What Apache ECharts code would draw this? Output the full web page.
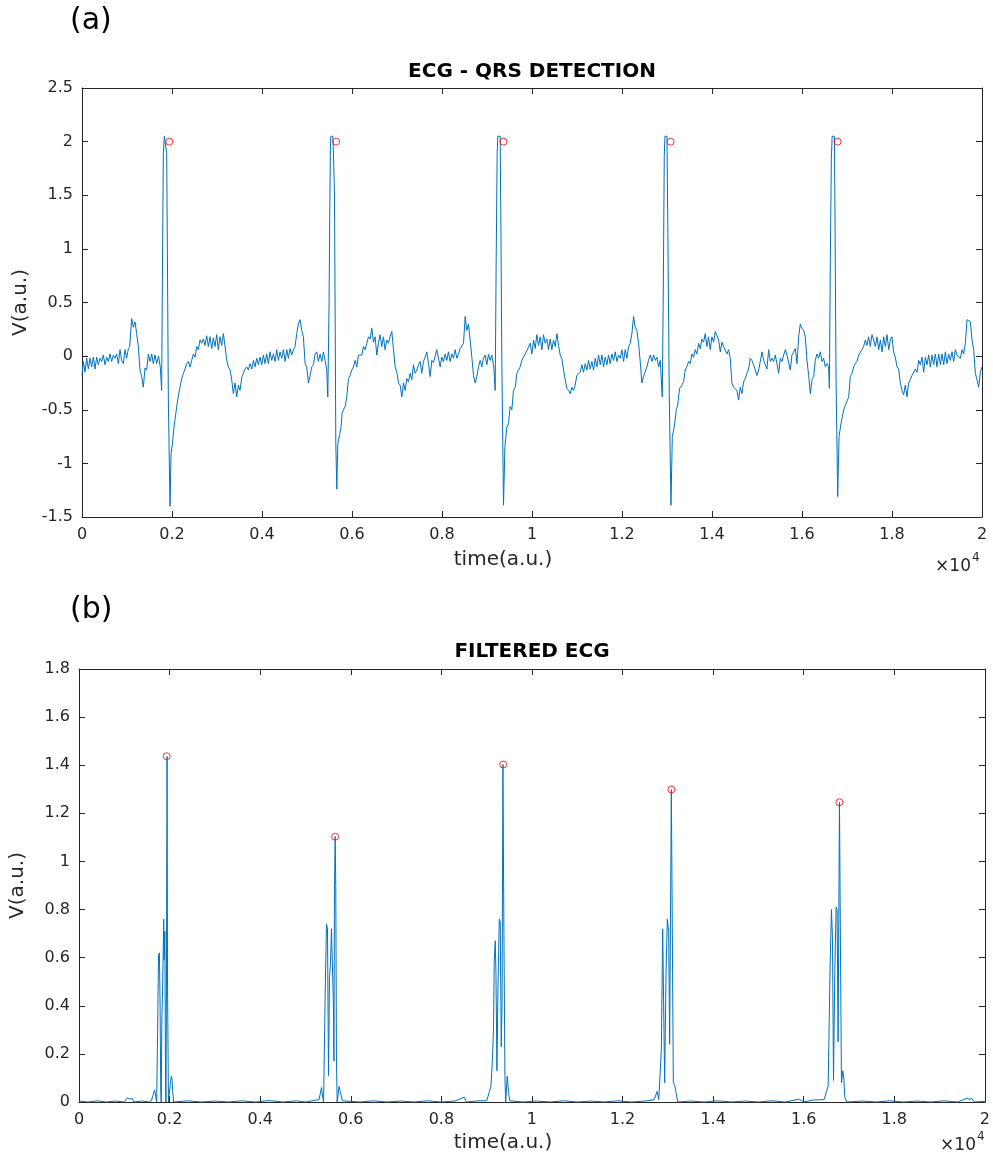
<!DOCTYPE html>
<html>
<head>
<meta charset="utf-8">
<script src="https://cdn.jsdelivr.net/npm/echarts@6/dist/echarts.min.js"></script>
<style>
html,body{margin:0;padding:0;background:#fff;}
#c{width:993px;height:1160px;}
</style>
</head>
<body>
<div id="c"></div>
<script>
// ---- DATA ----
// Raw ECG: [time, V]
const ecgSamples = [
[0,-0.18],[30,-0.05],[67,-0.15],[104,-0.02],[141,-0.12],[178,-0.02],[215,-0.10],[252,-0.01],[289,-0.12],[326,-0.01],[363,-0.08],[400,-0.02],[437,-0.05],[474,0.01],[511,-0.08],[548,-0.01],[585,-0.05],[622,0.02],[659,-0.05],[697,0.01],[734,-0.02],[771,0.02],[808,-0.07],[845,0.06],[882,-0.04],[919,-0.07],[956,0.06],[993,-0.02],[1030,0.07],[1060,0.09],[1104,0.35],[1141,0.27],[1178,0.32],[1215,0.21],[1252,0.09],[1289,-0.13],[1326,-0.19],[1363,-0.29],[1400,-0.11],[1437,-0.13],[1474,0.02],[1511,-0.05],[1548,0.02],[1585,-0.07],[1622,0.01],[1660,-0.07],[1700,0.0],[1740,-0.10],[1770,-0.32],
[1793,1.11],[1808,1.89],[1830,2.05],[1867,2.05],[1882,1.89],[1897,0.99],[1919,-0.41],[1956,-1.40],[1979,-0.91],[2008,-0.82],[2045,-0.66],[2082,-0.65],[2105,-0.47],[2149,-0.35],[2178,-0.29],[2216,-0.21],[2253,-0.16],[2290,-0.12],[2327,-0.07],[2364,-0.05],[2401,-0.10],[2438,-0.04],[2475,0.02],[2512,-0.01],[2549,0.09],[2586,0.06],[2623,0.15],[2660,0.12],[2697,0.16],
[2734,0.10],[2771,0.19],[2808,0.09],[2845,0.18],[2882,0.07],[2919,0.17],[2956,0.09],[2993,0.20],[3030,0.06],[3067,0.18],[3105,0.10],[3142,0.21],[3179,0.09],[3216,-0.04],[3253,-0.10],[3290,-0.13],[3327,-0.22],[3364,-0.35],[3401,-0.25],[3438,-0.38],[3475,-0.27],[3512,-0.32],[3549,-0.20],[3586,-0.16],[3623,-0.12],[3660,-0.10],[3697,-0.13],[3735,-0.07],[3772,-0.12],[3809,-0.04],[3846,-0.10],[3883,-0.02],[3920,-0.08],[3957,-0.01],[3994,-0.08],[4031,0.01],[4068,-0.07],[4105,0.02],[4142,-0.07],[4179,0.04],[4216,-0.04],[4253,0.02],[4290,-0.05],[4327,0.06],[4364,-0.04],[4401,0.04],[4438,-0.02],[4476,0.06],[4513,-0.05],[4550,0.06],[4587,-0.02],[4624,0.07],[4661,0.01],[4698,0.06],[4735,0.09],[4772,0.21],[4809,0.30],[4846,0.34],[4883,0.24],[4920,0.18],[4958,-0.07],[4995,-0.10],[5032,-0.25],[5069,-0.18],[5106,-0.10],[5143,-0.08],[5180,0.02],[5217,0.04],[5254,-0.05],[5291,0.02],[5328,-0.05],[5365,0.04],[5402,-0.04],[5439,-0.13],[5462,-0.38],
[5491,0.5],[5505,1.3],[5520,1.95],[5530,2.05],[5575,2.05],[5588,1.89],[5610,1.53],[5625,0.44],[5640,-0.82],[5662,-1.24],[5684,-0.82],[5721,-0.74],[5758,-0.66],[5780,-0.53],[5810,-0.50],[5847,-0.47],[5884,-0.38],[5921,-0.21],[5958,-0.18],[5995,-0.13],[6032,-0.10],[6070,-0.04],[6107,-0.10],[6144,0.01],[6181,0.02],[6218,0.01],[6255,0.09],[6292,0.06],[6329,0.12],[6366,0.18],[6403,0.16],[6440,0.26],[6477,0.13],[6514,0.18],[6551,0.01],[6588,0.12],[6625,0.20],[6662,0.09],[6699,0.18],[6736,0.06],[6773,0.15],[6810,0.12],[6847,0.18],[6885,0.23],[6922,0.06],[6959,-0.10],[6996,-0.15],[7033,-0.25],[7070,-0.27],[7107,-0.38],[7144,-0.25],[7181,-0.32],[7218,-0.21],[7255,-0.24],[7292,-0.16],[7329,-0.22],[7366,-0.08],[7403,-0.16],[7440,-0.13],[7477,-0.08],[7514,-0.05],[7551,-0.16],[7588,-0.05],[7625,-0.01],[7663,0.04],[7700,-0.07],[7737,-0.19],[7774,-0.04],[7811,-0.06],[7848,-0.07],[7885,0.06],[7922,-0.02],[7959,-0.10],[7996,-0.01],[8033,-0.05],[8070,0.02],[8107,-0.04],[8144,0.04],[8181,-0.05],[8218,0.02],[8255,-0.02],[8293,0.06],[8330,-0.02],[8367,0.02],[8404,0.07],[8441,0.06],[8478,0.12],[8515,0.37],[8552,0.24],[8589,0.30],[8626,0.15],[8663,-0.01],[8700,-0.18],[8737,-0.25],[8774,-0.19],[8811,-0.10],[8848,-0.04],[8885,-0.10],[8922,-0.02],[8959,0.01],[8996,-0.08],[9033,0.02],[9070,-0.04],[9107,0.01],[9150,-0.10],[9182,-0.32],
[9204,0.90],[9226,1.89],[9240,2.05],[9293,2.05],[9308,1.24],[9330,-0.07],[9367,-1.39],[9397,-0.85],[9441,-0.66],[9478,-0.63],[9515,-0.47],[9552,-0.50],[9589,-0.32],[9627,-0.29],[9663,-0.16],[9700,-0.16],[9737,-0.10],[9774,-0.04],[9811,-0.01],[9848,-0.01],[9885,0.05],[9923,0.06],[9960,0.12],[9997,0.02],[10034,0.15],[10071,0.07],[10108,0.20],[10145,0.10],[10182,0.18],[10219,0.06],[10256,0.20],[10293,0.12],[10330,0.16],[10367,0.06],[10404,0.16],[10441,0.06],[10478,0.15],[10516,0.09],[10553,0.21],[10590,0.10],[10627,0.01],[10664,-0.02],[10701,-0.13],[10738,-0.22],[10775,-0.30],[10812,-0.32],[10849,-0.35],[10886,-0.29],[10923,-0.32],[10960,-0.27],[10997,-0.18],[11034,-0.19],[11071,-0.15],[11108,-0.08],[11145,-0.15],[11183,-0.07],[11220,-0.13],[11257,-0.04],[11294,-0.12],[11331,-0.05],[11368,-0.13],[11405,-0.02],[11442,-0.10],[11479,0.01],[11516,-0.08],[11553,0.01],[11590,-0.10],[11627,-0.01],[11664,-0.08],[11701,0.01],[11738,-0.07],[11775,0.02],[11812,-0.04],[11850,0.04],[11887,-0.05],[11924,0.01],[11961,-0.02],[11998,0.06],[12035,-0.05],[12072,0.06],[12109,-0.02],[12146,0.09],[12183,0.12],[12220,0.21],[12257,0.37],[12294,0.27],[12331,0.24],[12368,0.12],[12405,-0.05],[12442,-0.25],[12479,-0.19],[12516,-0.18],[12553,-0.10],[12590,-0.04],[12628,0.01],[12665,-0.05],[12702,0.01],[12739,-0.04],[12776,-0.01],[12813,-0.10],[12850,-0.04],[12895,-0.38],
[12917,0.58],[12939,1.86],[12954,2.05],[12999,2.05],[13021,1.08],[13050,-0.35],[13088,-1.39],[13118,-0.75],[13161,-0.66],[13206,-0.50],[13240,-0.45],[13280,-0.30],[13331,-0.27],[13368,-0.24],[13405,-0.13],[13442,-0.10],[13479,-0.05],[13516,-0.07],[13553,0.02],[13590,-0.01],[13627,0.06],[13665,0.02],[13702,0.12],[13739,0.07],[13776,0.16],[13813,0.13],[13850,0.21],[13887,0.09],[13924,0.18],[13961,0.06],[13998,0.18],[14035,0.13],[14073,0.23],[14110,0.24],[14147,0.15],[14184,0.04],[14221,0.13],[14258,0.09],[14295,0.10],[14332,0.02],[14369,0.06],[14406,-0.02],[14443,-0.25],[14480,-0.29],[14517,-0.30],[14554,-0.32],[14591,-0.41],[14628,-0.29],[14665,-0.35],[14702,-0.24],[14739,-0.21],[14776,-0.16],[14813,-0.12],[14850,-0.02],[14887,-0.04],[14924,-0.08],[14962,-0.13],[14999,-0.18],[15036,-0.13],[15073,-0.05],[15110,0.04],[15147,-0.04],[15184,-0.08],[15221,-0.12],[15258,0.06],[15295,-0.05],[15332,-0.02],[15369,-0.05],[15406,0.01],[15443,-0.07],[15481,-0.16],[15518,-0.02],[15555,-0.05],[15592,0.01],[15629,0.06],[15666,0.01],[15703,0.02],[15740,-0.13],[15777,0.01],[15814,0.04],[15851,0.07],[15888,-0.07],[15925,0.18],[15962,0.30],[15999,0.26],[16036,0.24],[16073,0.18],[16111,-0.04],[16148,-0.18],[16185,-0.35],[16222,-0.22],[16259,-0.19],[16296,-0.04],[16333,0.02],[16370,-0.02],[16407,0.04],[16444,-0.05],[16481,-0.02],[16518,-0.10],[16555,-0.07],[16592,-0.10],[16608,-0.30],
[16630,0.93],[16652,1.83],[16670,2.05],[16719,2.05],[16734,1.27],[16756,-0.19],[16793,-1.31],[16823,-0.75],[16867,-0.63],[16912,-0.53],[16949,-0.47],[17001,-0.42],[17037,-0.38],[17074,-0.19],[17111,-0.16],[17148,-0.10],[17185,-0.07],[17222,-0.05],[17259,0.01],[17296,0.02],[17333,0.06],[17370,0.09],[17407,0.15],[17444,0.10],[17481,0.18],[17518,0.09],[17555,0.20],[17593,0.15],[17630,0.09],[17667,0.18],[17704,0.06],[17741,0.15],[17778,0.04],[17815,0.18],[17852,0.09],[17889,0.20],[17926,0.06],[17963,0.15],[17999,0.18],[18037,0.04],[18074,-0.01],[18111,-0.10],[18148,-0.12],[18185,-0.25],[18222,-0.32],[18259,-0.36],[18296,-0.27],[18333,-0.38],[18370,-0.25],[18407,-0.22],[18444,-0.18],[18482,-0.19],[18519,-0.12],[18556,-0.15],[18593,-0.04],[18630,-0.08],[18667,-0.01],[18704,-0.15],[18741,-0.01],[18778,-0.08],[18815,0.01],[18852,-0.10],[18889,0.01],[18926,-0.08],[18963,0.02],[19000,-0.10],[19038,0.02],[19075,-0.08],[19112,0.02],[19149,-0.08],[19186,0.04],[19223,-0.07],[19260,0.02],[19297,-0.04],[19334,0.04],[19371,-0.05],[19408,0.06],[19445,0.01],[19482,0.02],[19519,-0.02],[19556,0.06],[19593,0.02],[19630,0.12],[19667,0.34],[19704,0.34],[19741,0.32],[19778,0.15],[19815,0.06],[19852,-0.16],[19889,-0.22],[19926,-0.29],[19963,-0.15],[20000,-0.10]
];
// Detected R peaks on the raw ECG
const peakTimesTop = [1941, 5647, 9367, 13080, 16792];
const peakValuesTop = [2, 2, 2, 2, 2];

// Filtered ECG: [time, V]
const filtSamples = [
[0,0.004],[200,0.0],[400,0.005],[600,0.0],[800,0.004],[1000,0.0],[1070,0.018],[1120,0.012],[1180,0.015],[1210,0.0],[1400,0.004],[1550,0.0],[1600,0.006],[1640,0.01],[1670,0.05],[1700,0.05],[1715,0.0],[1735,0.29],[1755,0.61],[1775,0.62],[1790,0.40],[1805,0.05],[1815,0.0],[1830,0.35],[1845,0.47],[1855,0.58],[1870,0.76],[1880,0.59],[1895,0.71],[1910,0.10],[1920,0.0],[1930,0.47],[1944,1.437],[1955,0.47],[1965,0.47],[1975,0.0],[1990,0.03],[2020,0.08],[2040,0.107],[2055,0.09],[2070,0.04],[2090,0.0],
[2400,0.005],[2700,0.0],[3000,0.004],[3300,0.0],[3600,0.005],[3900,0.0],[4200,0.006],[4500,0.0],[4800,0.005],[5000,0.0],[5300,0.01],[5354,0.06],[5380,0.02],[5400,0.0],[5435,0.45],[5464,0.74],[5486,0.72],[5508,0.11],[5530,0.51],[5552,0.58],[5574,0.72],[5596,0.72],[5618,0.39],[5628,0.17],[5640,0.87],[5655,1.104],[5669,0.90],[5684,0.17],[5700,0.0],[5743,0.065],[5770,0.04],[5816,0.005],
[6200,0.0],[6500,0.005],[6800,0.0],[7100,0.004],[7400,0.0],[7700,0.005],[8000,0.0],[8300,0.004],[8508,0.02],[8550,0.0],[8800,0.005],[9000,0.005],[9095,0.065],[9130,0.19],[9150,0.30],[9168,0.59],[9190,0.67],[9205,0.54],[9227,0.13],[9249,0.47],[9278,0.76],[9300,0.75],[9322,0.23],[9340,0.40],[9359,1.403],[9381,0.70],[9403,0.11],[9420,0.0],[9454,0.107],[9484,0.04],[9510,0.005],
[9800,0.0],[10100,0.004],[10400,0.0],[10700,0.005],[11000,0.0],[11300,0.004],[11600,0.0],[11900,0.005],[12200,0.0],[12500,0.004],[12700,0.01],[12762,0.044],[12800,0.01],[12857,0.22],[12886,0.72],[12908,0.72],[12930,0.08],[12960,0.54],[12989,0.76],[13018,0.71],[13040,0.24],[13077,1.299],[13099,0.71],[13121,0.08],[13151,0.07],[13180,0.04],[13220,0.0],
[13500,0.004],[13800,0.0],[14100,0.005],[14400,0.0],[14700,0.004],[15000,0.0],[15300,0.005],[15600,0.0],[15900,0.012],[16000,0.0],[16200,0.008],[16450,0.01],[16503,0.044],[16539,0.065],[16583,0.57],[16612,0.80],[16635,0.68],[16657,0.09],[16686,0.54],[16715,0.81],[16737,0.80],[16759,0.25],[16789,1.246],[16811,0.64],[16833,0.08],[16862,0.13],[16884,0.10],[16906,0.02],[16950,0.0],
[17300,0.004],[17600,0.0],[17900,0.005],[18200,0.0],[18500,0.004],[18800,0.0],[19100,0.005],[19400,0.0],[19620,0.017],[19660,0.008],[19700,0.017],[19766,0.0],[20000,0.003]
];
// Detected peaks on the filtered ECG
const peakTimesBottom = [1936, 5655, 9366, 13078, 16788];
const peakValuesBottom = [1.437, 1.103, 1.403, 1.299, 1.246];

// Axis settings
const xMin = 0, xMax = 20000, xStep = 2000;
const topYMin = -1.5, topYMax = 2.5, topYStep = 0.5;
const botYMin = 0, botYMax = 1.8, botYStep = 0.2;

// ---- CHART ----
const FONT = '"DejaVu Sans", "Liberation Sans", sans-serif';
const AX = '#262626';
const LINE = '#0072BD';

function xAxisMain(gi) {
  return {
    type: 'value', gridIndex: gi, min: xMin, max: xMax, interval: xStep,
    position: 'bottom',
    axisLine: { show: true, onZero: false, lineStyle: { color: AX, width: 1 } },
    axisTick: { show: true, inside: true, length: 6, lineStyle: { color: AX } },
    axisLabel: { color: AX, fontSize: 16, fontFamily: FONT, margin: 10,
      formatter: v => String(+(v / 10000).toFixed(1)) },
    splitLine: { show: false }
  };
}
function xAxisTop(gi) {
  return {
    type: 'value', gridIndex: gi, min: xMin, max: xMax, interval: xStep,
    position: 'top',
    axisLine: { show: true, onZero: false, lineStyle: { color: AX, width: 1 } },
    axisTick: { show: true, inside: true, length: 6, lineStyle: { color: AX } },
    axisLabel: { show: false }, splitLine: { show: false }
  };
}
function yAxisMain(gi, mn, mx, st) {
  return {
    type: 'value', gridIndex: gi, min: mn, max: mx, interval: st,
    position: 'left',
    name: 'V(a.u.)', nameLocation: 'middle', nameGap: 51,
    nameTextStyle: { color: AX, fontSize: 20, fontFamily: FONT },
    axisLine: { show: true, onZero: false, lineStyle: { color: AX, width: 1 } },
    axisTick: { show: true, inside: true, length: 6, lineStyle: { color: AX } },
    axisLabel: { color: AX, fontSize: 16, fontFamily: FONT, margin: 9 },
    splitLine: { show: false }
  };
}
function yAxisRight(gi, mn, mx, st) {
  return {
    type: 'value', gridIndex: gi, min: mn, max: mx, interval: st,
    position: 'right',
    axisLine: { show: true, onZero: false, lineStyle: { color: AX, width: 1 } },
    axisTick: { show: true, inside: true, length: 6, lineStyle: { color: AX } },
    axisLabel: { show: false }, splitLine: { show: false }
  };
}

const chart = echarts.init(document.getElementById('c'), null, { renderer: 'canvas', width: 993, height: 1160 });

const markerStyle = { color: 'rgba(0,0,0,0)', borderColor: '#FF0000', borderWidth: 1 };

chart.setOption({
  animation: false,
  backgroundColor: '#ffffff',
  grid: [
    { left: 82, top: 88, width: 900, height: 429, containLabel: false },
    { left: 78, top: 669, width: 909, height: 433, containLabel: false }
  ],
  xAxis: [ xAxisMain(0), xAxisTop(0), xAxisMain(1), xAxisTop(1) ],
  yAxis: [
    yAxisMain(0, topYMin, topYMax, topYStep), yAxisRight(0, topYMin, topYMax, topYStep),
    yAxisMain(1, botYMin, botYMax, botYStep), yAxisRight(1, botYMin, botYMax, botYStep)
  ],
  series: [
    { type: 'line', xAxisIndex: 0, yAxisIndex: 0, data: ecgSamples, showSymbol: false,
      lineStyle: { color: LINE, width: 1 }, itemStyle: { color: LINE }, silent: true, z: 2 },
    { type: 'scatter', xAxisIndex: 0, yAxisIndex: 0, symbol: 'circle', symbolSize: 7,
      data: peakTimesTop.map((t, i) => [t, peakValuesTop[i]]), itemStyle: markerStyle, silent: true, z: 3 },
    { type: 'line', xAxisIndex: 2, yAxisIndex: 2, data: filtSamples, showSymbol: false,
      lineStyle: { color: LINE, width: 1 }, itemStyle: { color: LINE }, silent: true, z: 2 },
    { type: 'scatter', xAxisIndex: 2, yAxisIndex: 2, symbol: 'circle', symbolSize: 7,
      data: peakTimesBottom.map((t, i) => [t, peakValuesBottom[i]]), itemStyle: markerStyle, silent: true, z: 3 }
  ],
  graphic: [
    { type: 'text', x: 70, y: 21, style: { text: '(a)', font: '30px ' + FONT, fill: '#000', verticalAlign: 'middle' } },
    { type: 'text', x: 70, y: 610, style: { text: '(b)', font: '30px ' + FONT, fill: '#000', verticalAlign: 'middle' } },
    { type: 'text', x: 532, y: 72, style: { text: 'ECG - QRS DETECTION', font: 'bold 20px ' + FONT, fill: '#000', align: 'center', verticalAlign: 'middle' } },
    { type: 'text', x: 532, y: 652, style: { text: 'FILTERED ECG', font: 'bold 20px ' + FONT, fill: '#000', align: 'center', verticalAlign: 'middle' } },
    { type: 'text', x: 503, y: 560, style: { text: 'time(a.u.)', font: '20px ' + FONT, fill: AX, align: 'center', verticalAlign: 'middle' } },
    { type: 'text', x: 503, y: 1143, style: { text: 'time(a.u.)', font: '20px ' + FONT, fill: AX, align: 'center', verticalAlign: 'middle' } },
    { type: 'text', x: 971, y: 567, style: { text: '×10', font: '17px ' + FONT, fill: AX, align: 'right', verticalAlign: 'middle' } },
    { type: 'text', x: 972, y: 558, style: { text: '4', font: '12px ' + FONT, fill: AX, align: 'left', verticalAlign: 'middle' } },
    { type: 'text', x: 976, y: 1146, style: { text: '×10', font: '17px ' + FONT, fill: AX, align: 'right', verticalAlign: 'middle' } },
    { type: 'text', x: 977, y: 1137, style: { text: '4', font: '12px ' + FONT, fill: AX, align: 'left', verticalAlign: 'middle' } }
  ]
});
</script>
</body>
</html>
